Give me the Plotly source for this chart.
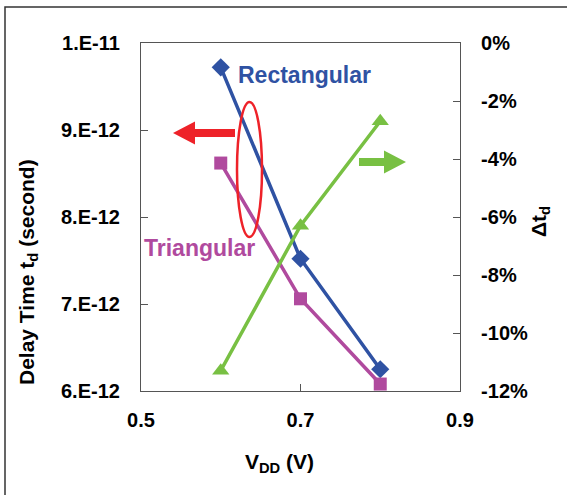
import plotly.graph_objects as go

vdd = [0.6, 0.7, 0.8]
rect_delay = [9.72e-12, 7.52e-12, 6.25e-12]
tri_delay = [8.62e-12, 7.06e-12, 6.08e-12]
delta_pct = [-11.3, -6.3, -2.7]

x_ticks = [0.5, 0.7, 0.9]
x_ticktext = ["0.5", "0.7", "0.9"]
yl_ticks = [6e-12, 7e-12, 8e-12, 9e-12, 1e-11]
yl_ticktext = ["6.E-12", "7.E-12", "8.E-12", "9.E-12", "1.E-11"]
yr_ticks = [-12, -10, -8, -6, -4, -2, 0]
yr_ticktext = ["-12%", "-10%", "-8%", "-6%", "-4%", "-2%", "0%"]

BLUE = "#2F52A3"
MAG = "#B04A9E"
GREEN = "#78C043"
RED = "#EE2229"
FONT = "Liberation Sans"

W, H = 567, 495
L, R, T, B = 141, 460, 43, 391


def px(x, y):
    return (x - L) / (R - L), (B - y) / (B - T)


fig = go.Figure()
fig.add_trace(go.Scatter(x=vdd, y=rect_delay, mode="lines+markers",
                         line=dict(color=BLUE, width=3.5),
                         marker=dict(symbol="diamond", size=14, color=BLUE),
                         name="Rectangular"))
fig.add_trace(go.Scatter(x=vdd, y=tri_delay, mode="lines+markers",
                         line=dict(color=MAG, width=3.5),
                         marker=dict(symbol="square", size=13, color=MAG),
                         name="Triangular"))
fig.add_trace(go.Scatter(x=vdd, y=delta_pct, mode="lines+markers", yaxis="y2",
                         line=dict(color=GREEN, width=3.5),
                         marker=dict(symbol="triangle-up", size=15, color=GREEN),
                         name="delta"))

tickfont = dict(family=FONT, size=20, color="black", weight="bold")

fig.update_layout(
    width=W, height=H,
    margin=dict(l=L, r=W - R, t=T, b=H - B),
    paper_bgcolor="white", plot_bgcolor="white",
    showlegend=False,
    font=dict(family=FONT, color="black"),
    xaxis=dict(range=[0.5, 0.9], tickvals=x_ticks, ticktext=x_ticktext,
               ticks="inside", ticklen=7, tickcolor="#555",
               showline=True, linecolor="#555", linewidth=1.2, mirror=True,
               showgrid=False, zeroline=False, tickfont=tickfont,
               ticklabelstandoff=11),
    yaxis=dict(range=[6e-12, 1e-11], tickvals=yl_ticks, ticktext=yl_ticktext,
               ticks="inside", ticklen=7, tickcolor="#555",
               showline=True, linecolor="#555", linewidth=1.2, mirror=True,
               showgrid=False, zeroline=False, tickfont=tickfont,
               ticklabelstandoff=16),
    yaxis2=dict(range=[-12, 0], tickvals=yr_ticks, ticktext=yr_ticktext,
                overlaying="y", side="right",
                ticks="inside", ticklen=7, tickcolor="#555",
                showline=True, linecolor="#555", linewidth=1.2,
                showgrid=False, zeroline=False, tickfont=tickfont,
                ticklabelstandoff=16),
)

shapes = []
# outer frame
x0, y0 = px(5, 7)
x1, y1 = px(620, 540)
shapes.append(dict(type="rect", xref="paper", yref="paper", x0=x0, y0=y1, x1=x1, y1=y0,
                   line=dict(color="#333", width=1.5), layer="below"))
# red ellipse
ex0, ey0 = px(237, 102)
ex1, ey1 = px(262, 237)
shapes.append(dict(type="circle", xref="paper", yref="paper", x0=ex0, x1=ex1, y0=ey1, y1=ey0,
                   line=dict(color=RED, width=2.5)))


def arrow_path(tail_x, head_base_x, tip_x, yc, shaft_h, head_h):
    pts = [(tail_x, yc - shaft_h / 2), (head_base_x, yc - shaft_h / 2),
           (head_base_x, yc - head_h / 2), (tip_x, yc),
           (head_base_x, yc + head_h / 2), (head_base_x, yc + shaft_h / 2),
           (tail_x, yc + shaft_h / 2)]
    s = ""
    for i, (a, b) in enumerate(pts):
        xa, yb = px(a, b)
        s += ("M" if i == 0 else "L") + f"{xa:.5f},{yb:.5f} "
    return s + "Z"


shapes.append(dict(type="path", xref="paper", yref="paper",
                   path=arrow_path(235, 195, 173, 133, 8, 23),
                   fillcolor=RED, line=dict(width=0)))
shapes.append(dict(type="path", xref="paper", yref="paper",
                   path=arrow_path(359, 384, 406, 162, 8, 23),
                   fillcolor=GREEN, line=dict(width=0)))
fig.update_layout(shapes=shapes)

ann = []
ax, ay = px(236, 75)
ann.append(dict(text="Rectangular", xref="paper", yref="paper", x=ax, y=ay,
                xanchor="left", yanchor="middle", showarrow=False,
                font=dict(family=FONT, size=23, color=BLUE, weight="bold")))
ax, ay = px(142, 248)
ann.append(dict(text="Triangular", xref="paper", yref="paper", x=ax, y=ay,
                xanchor="left", yanchor="middle", showarrow=False,
                font=dict(family=FONT, size=23, color=MAG, weight="bold")))
ax, ay = px(28, 272)
ann.append(dict(text="Delay Time t<sub>d</sub> (second)", xref="paper", yref="paper",
                x=ax, y=ay, xanchor="center", yanchor="middle", showarrow=False,
                textangle=-90,
                font=dict(family=FONT, size=21, color="black", weight="bold")))
ax, ay = px(540, 222)
ann.append(dict(text="Δt<sub>d</sub>", xref="paper", yref="paper",
                x=ax, y=ay, xanchor="center", yanchor="middle", showarrow=False,
                textangle=-90,
                font=dict(family=FONT, size=21, color="black", weight="bold")))
ax, ay = px(279, 463)
ann.append(dict(text="V<sub>DD</sub> (V)", xref="paper", yref="paper",
                x=ax, y=ay, xanchor="center", yanchor="middle", showarrow=False,
                font=dict(family=FONT, size=21, color="black", weight="bold")))
fig.update_layout(annotations=ann)

fig.write_html("out.html", config={"displayModeBar": False},
               post_script="document.body.style.margin='0';document.body.style.overflow='hidden';")
